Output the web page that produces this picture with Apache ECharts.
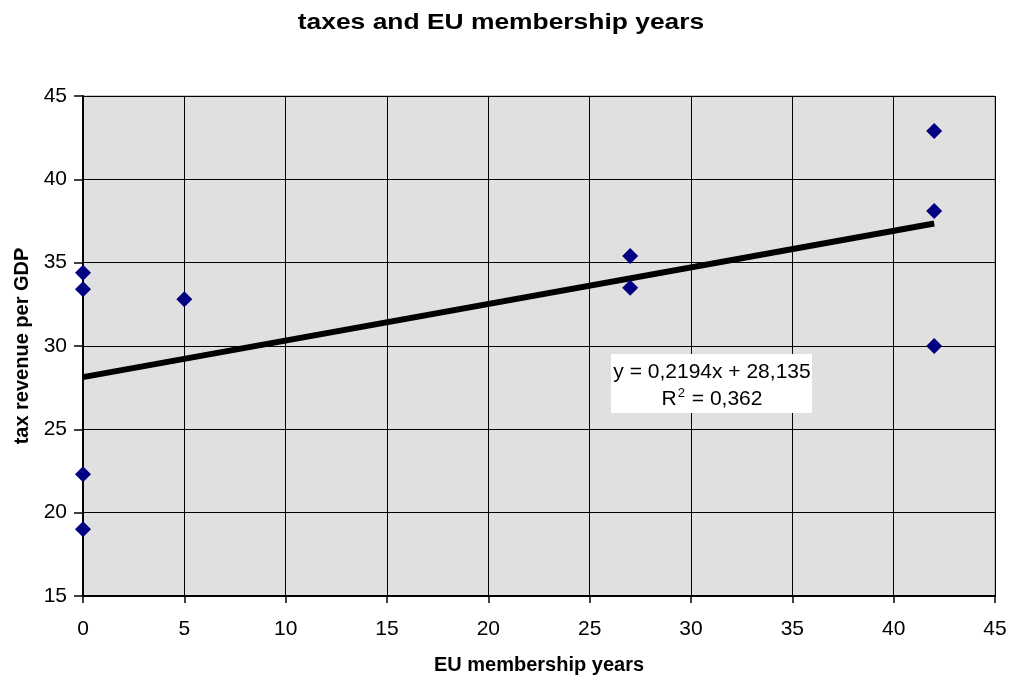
<!DOCTYPE html>
<html><head><meta charset="utf-8">
<script src="https://cdn.jsdelivr.net/npm/echarts@6/dist/echarts.min.js"></script>
<style>html,body{margin:0;padding:0;background:#fff}#c{width:1010px;height:682px}</style>
</head><body><div id="c"></div>
<script>
var chartTitle = 'taxes and EU membership years';
var xAxisTitle = 'EU membership years';
var yAxisTitle = 'tax revenue per GDP';
var membershipYears = [0, 0, 0, 0, 5, 27, 27, 42, 42, 42];
var taxRevenue = [34.4, 33.4, 22.3, 19.0, 32.8, 35.4, 33.5, 42.9, 38.1, 30.0];
var trendSlope = 0.2194;
var trendIntercept = 28.135;
var trendR2 = 0.362;
var trendRange = [0, 42];

var pts = membershipYears.map(function (x, i) { return [x, taxRevenue[i]]; });
var trend = trendRange.map(function (x) { return [x, trendSlope * x + trendIntercept]; });
function fmt(v, d) { return v.toFixed(d).replace('.', ','); }

var chart = echarts.init(document.getElementById('c'));
var FONT = '"Liberation Sans", Arial, sans-serif';
chart.setOption({
  animation: false,
  grid: { left: 83, right: 15, top: 96, bottom: 86, show: true, backgroundColor: '#e0e0e0', borderColor: '#8c8c8c', borderWidth: 1 },
  xAxis: {
    type: 'value', min: 0, max: 45, interval: 5,
    name: xAxisTitle, nameLocation: 'middle', nameGap: 59,
    nameTextStyle: { fontFamily: FONT, fontSize: 20, fontWeight: 'bold', color: '#000' },
    axisLine: { show: true, onZero: false, lineStyle: { color: '#000', width: 2 } },
    axisTick: { show: true, length: 7, lineStyle: { color: '#000', width: 1.5 } },
    axisLabel: { fontFamily: FONT, fontSize: 21, color: '#000', margin: 23 },
    splitLine: { show: true, lineStyle: { color: '#000', width: 1 } }
  },
  yAxis: {
    type: 'value', min: 15, max: 45, interval: 5,
    name: yAxisTitle, nameLocation: 'middle', nameGap: 49, nameRotate: 90,
    nameTextStyle: { fontFamily: FONT, fontSize: 20, fontWeight: 'bold', color: '#000' },
    axisLine: { show: true, onZero: false, lineStyle: { color: '#000', width: 2 } },
    axisTick: { show: true, length: 9, lineStyle: { color: '#000', width: 1.5 } },
    axisLabel: { fontFamily: FONT, fontSize: 21, color: '#000', margin: 16, padding: [7, 0, 0, 0] },
    splitLine: { show: true, lineStyle: { color: '#000', width: 1 } }
  },
  series: [
    {
      type: 'line', data: trend, symbol: 'none', z: 3,
      lineStyle: { color: '#000', width: 6 }
    },
    {
      type: 'scatter', data: pts, symbol: 'diamond', symbolSize: [16, 16], z: 4,
      itemStyle: { color: '#000080', opacity: 1 }
    }
  ],
  graphic: [
    {
      type: 'text', x: 501, y: 23, scaleX: 1.2, z: 10,
      style: {
        text: chartTitle, textAlign: 'center', textVerticalAlign: 'middle',
        font: 'bold 22px ' + FONT, fill: '#000'
      }
    },
    {
      type: 'rect', shape: { x: 611, y: 354, width: 201, height: 59 }, z: 10,
      style: { fill: '#fff' }
    },
    {
      type: 'text', x: 712, y: 372, z: 11,
      style: {
        text: 'y = ' + fmt(trendSlope, 4) + 'x + ' + fmt(trendIntercept, 3),
        textAlign: 'center', textVerticalAlign: 'middle',
        font: '21px ' + FONT, fill: '#000'
      }
    },
    {
      type: 'text', x: 712, y: 399, z: 11,
      style: {
        text: '{r|R}{s|2}{r| = ' + fmt(trendR2, 3) + '}',
        textAlign: 'center', textVerticalAlign: 'middle',
        rich: {
          r: { fontFamily: FONT, fontSize: 21, lineHeight: 24, fill: '#000' },
          s: { fontFamily: FONT, fontSize: 13, lineHeight: 24, verticalAlign: 'top', padding: [0, 1, 14, 1], fill: '#000' }
        }
      }
    }
  ]
});
</script></body></html>
